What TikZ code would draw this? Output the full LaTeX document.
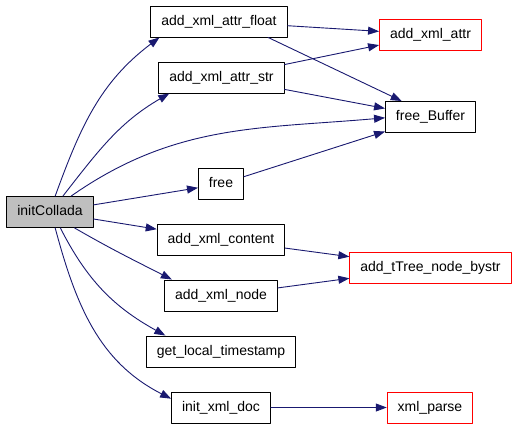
\documentclass[tikz,border=0pt]{standalone}
\usepackage{fontspec}
\setmainfont{Liberation Sans}
\usetikzlibrary{arrows.meta}
\definecolor{edgeblue}{HTML}{191970}
\definecolor{rootgray}{HTML}{BFBFBF}
\begin{document}
\begin{tikzpicture}[x=1pt,y=1pt,line cap=round,line join=round,
	>={Triangle[length=11pt,width=8pt]},
	fn/.style={draw=black,line width=0.9pt,fill=white,inner xsep=10.5pt,minimum height=31pt,
		text height=10pt,text depth=3pt,font=\fontsize{14}{16}\selectfont},
	fnext/.style={fn,draw=red},
	fnroot/.style={fn,fill=rootgray},
	call/.style={->,color=edgeblue,line width=0.9pt}]
	\useasboundingbox (0,0) rectangle (520,-429);
	\node[fnroot] (initCollada) at (50,-212) {initCollada};
	\node[fn] (attrfloat) at (219,-21.5) {add\_xml\_attr\_float};
	\node[fn] (attrstr) at (221.5,-77.5) {add\_xml\_attr\_str};
	\node[fn] (free) at (221,-184) {free};
	\node[fn] (content) at (221,-239.5) {add\_xml\_content};
	\node[fn] (xmlnode) at (221,-295.5) {add\_xml\_node};
	\node[fn] (timestamp) at (221,-351.5) {get\_local\_timestamp};
	\node[fn] (initdoc) at (221,-407.5) {init\_xml\_doc};
	\node[fnext] (attr) at (430.5,-34.5) {add\_xml\_attr};
	\node[fn] (freebuf) at (430.5,-117) {free\_Buffer};
	\node[fnext] (ttree) at (430.5,-267.5) {add\_tTree\_node\_bystr};
	\node[fnext] (parse) at (430,-407.5) {xml\_parse};
	\draw[call] (initCollada.72) to[out=70,in=217] (attrfloat.195);
	\draw[call] (initCollada.51) to[out=52,in=210] (attrstr.197);
	\draw[call] (initCollada.37) to[out=35,in=185] (freebuf.181);
	\draw[call] (initCollada) -- (free);
	\draw[call] (initCollada) -- (content);
	\draw[call] (initCollada.-33) to[out=-30,in=153] (xmlnode.162);
	\draw[call] (initCollada.-57) to[out=-63,in=151] (timestamp.164);
	\draw[call] (initCollada.-72) to[out=-75,in=153] (initdoc.170);
	\draw[call] (attrfloat) -- (attr);
	\draw[call] (attrfloat.-18) -- (freebuf.151);
	\draw[call] (attrstr) -- (attr);
	\draw[call] (attrstr) -- (freebuf);
	\draw[call] (free) -- (freebuf);
	\draw[call] (content) -- (ttree);
	\draw[call] (xmlnode) -- (ttree);
	\draw[call] (initdoc) -- (parse);
\end{tikzpicture}
\end{document}
